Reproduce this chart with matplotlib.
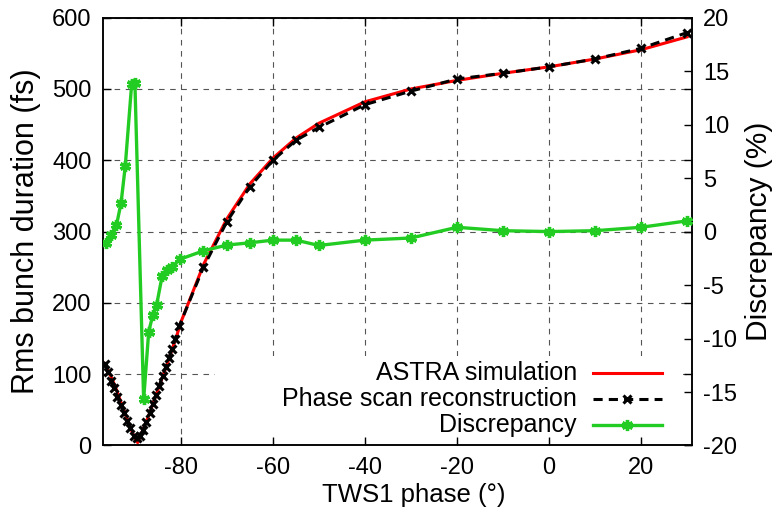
import matplotlib
matplotlib.use("Agg")
import matplotlib.pyplot as plt
from matplotlib.lines import Line2D
from matplotlib.patches import Rectangle

plt.rcParams['font.family'] = ['Liberation Sans', 'DejaVu Sans']
plt.rcParams['axes.unicode_minus'] = False

# ---- data ----
recon_phase = [-96.6, -95.9, -95.2, -94.5, -93.8, -93.1, -92.4, -91.7, -91.0, -90.3,
               -89.6, -88.9, -88.2, -87.5, -86.8, -86.1, -85.4, -84.7, -84.0, -83.3,
               -82.6, -81.9, -81.2, -80.4, -75.1, -70, -65, -60, -55, -50, -40, -30,
               -20, -10, 0, 10, 20, 30]
recon_fs = [114, 103, 91, 80, 68, 57, 46, 35, 24, 14,
            10, 14, 22, 33, 45, 58, 71, 84, 97, 110,
            123, 136, 150, 167, 250, 314, 363, 400, 428, 446, 478, 497,
            514, 522, 531, 542, 557, 579]

astra_phase = [-96.6, -95, -94, -93, -92, -91, -90, -89.4, -88.8, -88, -87, -86, -85,
               -84, -83, -82, -81, -80, -75, -70, -65, -60, -55, -50, -40, -30, -20,
               -10, 0, 10, 20, 30]
astra_fs = [115, 94, 78, 60, 43, 25, 10, 4, 13, 26, 42, 60, 78,
            96, 114, 133, 152, 173, 255, 318, 367, 403, 431, 452, 482, 500, 512,
            522, 531, 542, 555, 573]

disc_phase = [-96.3, -95.1, -94.0, -93.0, -92.1, -90.7, -90.0, -88.1, -87.0, -86.1,
              -85.3, -84.1, -83.0, -81.9, -80.3, -75.1, -70, -65, -60, -55, -50,
              -40, -30, -20, -10, 0, 10, 20, 30]
disc_pct = [-1.1, -0.3, 0.6, 2.7, 6.1, 13.8, 13.9, -15.7, -9.35, -7.8,
            -6.9, -4.2, -3.6, -3.3, -2.6, -1.8, -1.26, -1.05, -0.8, -0.8, -1.3,
            -0.8, -0.6, 0.4, 0.08, 0.0, 0.08, 0.4, 1.0]

x_ticks = [-80, -60, -40, -20, 0, 20]
y_ticks = [0, 100, 200, 300, 400, 500, 600]
y2_ticks = [-20, -15, -10, -5, 0, 5, 10, 15, 20]

labels = ['ASTRA simulation', 'Phase scan reconstruction', 'Discrepancy']

RED = '#ff0000'
GREEN = '#22cc22'
FS = 17
TICKLEN = 6

fig = plt.figure(figsize=(7.78, 5.13), dpi=100)
ax = fig.add_axes([0.132, 0.1316, 0.757, 0.834])
ax2 = ax.twinx()

ax.plot(astra_phase, astra_fs, color=RED, lw=2.2, zorder=3)
ax.plot(recon_phase, recon_fs, color='black', lw=2.2, ls=(0, (3, 2)),
        marker='x', ms=6, mew=2.2, zorder=4)
ax2.plot(disc_phase, disc_pct, color=GREEN, lw=2.4, marker=(6, 2, 0),
         ms=8, mew=2.4, zorder=5)

ax.set_xlim(-97, 31)
ax.set_ylim(0, 600)
ax2.set_ylim(-20, 20)
ax.set_xticks(x_ticks)
ax.set_yticks(y_ticks)
ax2.set_yticks(y2_ticks)

ax.grid(True, color='#555555', lw=0.8, ls=(0, (5, 5)))
ax.tick_params(axis='both', direction='in', length=TICKLEN, width=1, labelsize=FS,
               top=True, right=True, labelright=False, labeltop=False, pad=8)
ax2.tick_params(axis='y', direction='in', length=TICKLEN, width=1, labelsize=FS, pad=8)

for a in (ax, ax2):
    for s in a.spines.values():
        s.set_linewidth(1.1)

ax.set_xlabel('TWS1 phase (°)', fontsize=18.5)
ax.xaxis.set_label_coords(0.5285, -0.088)
ax.set_ylabel('Rms bunch duration (fs)', fontsize=22, labelpad=8)
ax2.set_ylabel('Discrepancy (%)', fontsize=21.5, labelpad=6)

# key background (opaque, hides grid behind the key)
ax_h_px = 0.834 * 513
ax_w_px = 0.757 * 778
tl_px = TICKLEN * 100 / 72
ax.add_patch(Rectangle((0.19, tl_px / ax_h_px), 1 - 0.19 - tl_px / ax_w_px,
                       0.209 - tl_px / ax_h_px, transform=ax.transAxes,
                       facecolor='white', edgecolor='none', zorder=2))

# key at lower right, text right-aligned, samples on the right
tx = 0.805
lx0, lx1 = 0.8325, 0.9496
rows = [0.1688, 0.108, 0.048]
styles = [dict(color=RED, lw=2.2),
          dict(color='black', lw=2.2, ls=(0, (3, 2))),
          dict(color=GREEN, lw=2.4)]
markers = [None, dict(marker='x', ms=6, mew=2.2, color='black'),
           dict(marker=(6, 2, 0), ms=8, mew=2.4, color=GREEN)]
for lab, yy, st, mk in zip(labels, rows, styles, markers):
    ax2.text(tx, yy, lab, transform=ax2.transAxes, ha='right', va='center',
             fontsize=18, zorder=10)
    ax2.add_line(Line2D([lx0, lx1], [yy, yy], transform=ax2.transAxes, zorder=10, **st))
    if mk is not None:
        ax2.add_line(Line2D([(lx0 + lx1) / 2], [yy], transform=ax2.transAxes,
                            ls='none', zorder=11, **mk))

fig.savefig('out.png', dpi=100)
